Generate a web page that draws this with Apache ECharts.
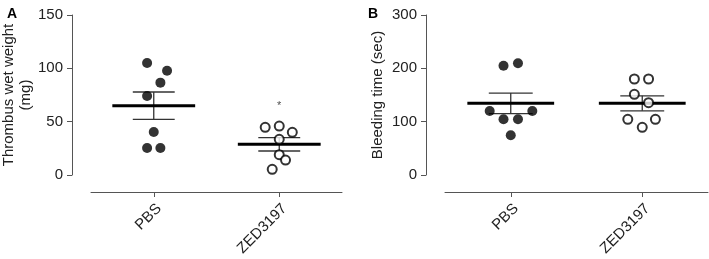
<!DOCTYPE html>
<html>
<head>
<meta charset="utf-8">
<script src="https://cdn.jsdelivr.net/npm/echarts@6/dist/echarts.min.js"></script>
<style>
  html, body { margin: 0; padding: 0; background: #fff; }
  #chart { width: 709px; height: 259px; }
</style>
</head>
<body>
<div id="chart"></div>
<script>
// groups on the x axis
const groups = ['PBS', 'ZED3197']

// panel A: thrombus wet weight (mg)
const pbsWeight = [105, 97.8, 86.6, 74, 40.3, 25.3, 25.3]
const pbsWeightJitter = [-0.053, 0.106, 0.053, -0.053, 0, -0.053, 0.053]
const zedWeight = [44.7, 45.9, 40, 33.4, 19, 14, 5.3]
const zedWeightJitter = [-0.112, 0, 0.104, 0, 0, 0.05, -0.056]
const weightMean = [65, 28.8]
const weightSem = [12.8, 6.3]
const weightStar = 67

// panel B: bleeding time (sec)
const pbsBleed = [205, 209.4, 120, 120, 104.4, 104.4, 74.4]
const pbsBleedJitter = [-0.055, 0.055, -0.16, 0.164, -0.055, 0.055, 0]
const zedBleed = [180, 180, 151.3, 135.6, 104.4, 104.4, 89.4]
const zedBleedJitter = [-0.06, 0.048, -0.06, 0.048, -0.11, 0.1, 0]
const bleedMean = [134.4, 134.4]
const bleedSem = [19.3, 14]

const font = 'Liberation Sans, Arial, sans-serif'
const axisColor = '#555'

function points(vals, jit, groupIdx) {
  return vals.map((v, i) => [groupIdx + 1 + jit[i], v])
}

function errorData(mean, sem) {
  return mean.map((m, i) => [i + 1, m, sem[i]])
}

function renderErr(params, api) {
  const x = api.value(0), m = api.value(1), s = api.value(2)
  const meanL = api.coord([x - 0.33, m]), meanR = api.coord([x + 0.33, m])
  const top = api.coord([x, m + s]), bot = api.coord([x, m - s])
  const capTL = api.coord([x - 0.167, m + s]), capTR = api.coord([x + 0.167, m + s])
  const capBL = api.coord([x - 0.167, m - s]), capBR = api.coord([x + 0.167, m - s])
  const thin = {stroke: '#333', lineWidth: 1.3}
  return {
    type: 'group',
    children: [
      {type: 'line', shape: {x1: top[0], y1: top[1], x2: bot[0], y2: bot[1]}, style: thin},
      {type: 'line', shape: {x1: capTL[0], y1: capTL[1], x2: capTR[0], y2: capTR[1]}, style: thin},
      {type: 'line', shape: {x1: capBL[0], y1: capBL[1], x2: capBR[0], y2: capBR[1]}, style: thin},
      {type: 'line', shape: {x1: meanL[0], y1: meanL[1], x2: meanR[0], y2: meanR[1]}, style: {stroke: '#000', lineWidth: 3}}
    ]
  }
}

// y axis shown next to the plot, detached from the x axis
function showYAxis(gridIdx, max, name, nameGap) {
  return {
    type: 'value', gridIndex: gridIdx, min: 0, max: max, interval: max / 3,
    axisLine: {show: true, onZero: false, lineStyle: {color: axisColor, width: 1}},
    axisTick: {show: true, length: 5, lineStyle: {color: axisColor}},
    axisLabel: {fontSize: 15, color: '#222', fontFamily: font, margin: 9},
    splitLine: {show: false},
    name: name, nameLocation: 'middle', nameRotate: 90, nameGap: nameGap,
    nameTextStyle: {fontSize: 15, color: '#222', fontFamily: font, lineHeight: 17}
  }
}

function hiddenY(gridIdx, max) {
  return {type: 'value', gridIndex: gridIdx, show: false, min: -max * 17 / 160, max: max, splitLine: {show: false}}
}

function catX(gridIdx) {
  return {
    type: 'category', gridIndex: gridIdx, data: groups, boundaryGap: true,
    axisLine: {show: true, onZero: false, lineStyle: {color: axisColor, width: 1}},
    axisTick: {show: true, alignWithLabel: true, length: 5, lineStyle: {color: axisColor}},
    axisLabel: {rotate: 45, fontSize: 15, color: '#222', fontFamily: font, margin: 9,
      verticalAlign: 'top', interval: 0},
    splitLine: {show: false}
  }
}

function valX(gridIdx) {
  return {type: 'value', gridIndex: gridIdx, show: false, min: 0.5, max: 2.5, splitLine: {show: false}}
}

const filled = {color: '#000'}
const hollow = {color: '#fff', borderColor: '#000', borderWidth: 2}

const chart = echarts.init(document.getElementById('chart'), null, {renderer: 'canvas'})
chart.setOption({
  animation: false,
  title: [
    {text: 'A', left: 2, top: 2, textStyle: {fontSize: 14, fontWeight: 'bold', fontFamily: font, color: '#000'}},
    {text: 'B', left: 363, top: 2, textStyle: {fontSize: 14, fontWeight: 'bold', fontFamily: font, color: '#000'}}
  ],
  grid: [
    {left: 91, top: 15, width: 251, height: 177, outerBoundsMode: 'none'},
    {left: 72, top: 15, width: 10, height: 160, outerBoundsMode: 'none'},
    {left: 445, top: 15, width: 263, height: 177, outerBoundsMode: 'none'},
    {left: 426, top: 15, width: 10, height: 160, outerBoundsMode: 'none'}
  ],
  xAxis: [
    catX(0), valX(0),
    {type: 'value', gridIndex: 1, show: false, min: 0, max: 1},
    catX(2), valX(2),
    {type: 'value', gridIndex: 3, show: false, min: 0, max: 1}
  ],
  yAxis: [
    hiddenY(0, 150),
    showYAxis(1, 150, 'Thrombus wet weight\n(mg)', 37),
    hiddenY(2, 300),
    showYAxis(3, 300, 'Bleeding time (sec)', 40)
  ],
  series: [
    {type: 'custom', xAxisIndex: 1, yAxisIndex: 0, data: errorData(weightMean, weightSem), renderItem: renderErr, z: 1},
    {type: 'scatter', xAxisIndex: 1, yAxisIndex: 0, symbolSize: 10, itemStyle: filled, data: points(pbsWeight, pbsWeightJitter, 0), z: 3},
    {type: 'scatter', xAxisIndex: 1, yAxisIndex: 0, symbolSize: 9, itemStyle: hollow, data: points(zedWeight, zedWeightJitter, 1), z: 3},
    {type: 'scatter', xAxisIndex: 1, yAxisIndex: 0, symbolSize: 0, data: [[2, weightStar]],
      label: {show: true, position: 'inside', formatter: '*', fontSize: 11, color: '#222', fontFamily: font, offset: [0, 2]}},
    {type: 'custom', xAxisIndex: 4, yAxisIndex: 2, data: errorData(bleedMean, bleedSem), renderItem: renderErr, z: 1},
    {type: 'scatter', xAxisIndex: 4, yAxisIndex: 2, symbolSize: 10, itemStyle: filled, data: points(pbsBleed, pbsBleedJitter, 0), z: 3},
    {type: 'scatter', xAxisIndex: 4, yAxisIndex: 2, symbolSize: 9, itemStyle: hollow, data: points(zedBleed, zedBleedJitter, 1), z: 3}
  ]
})
</script>
</body>
</html>
